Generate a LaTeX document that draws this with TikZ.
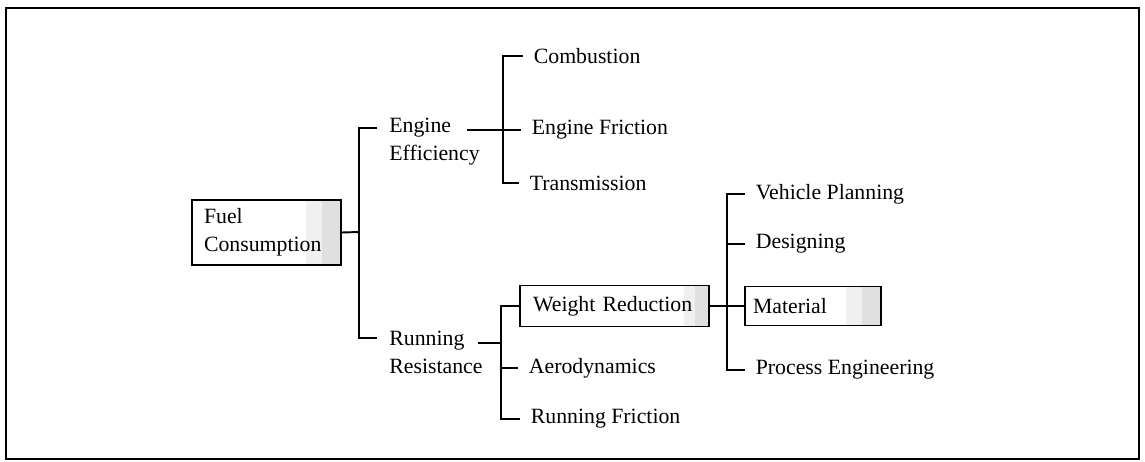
\documentclass[tikz,border=0pt]{standalone}
\usepackage{fontspec}
\setmainfont{Liberation Serif}
\begin{document}
\begin{tikzpicture}[x=0.02cm, y=-0.02cm,
  every node/.style={font=\fontsize{12.4}{15.9}\selectfont},
  lbl/.style={anchor=west, inner xsep=0.21cm, inner ysep=0pt},
  lbl2/.style={anchor=west, inner xsep=0.24cm, inner ysep=0pt, align=left},
  tintbox/.style={draw, line width=1.1pt, anchor=center, align=left,
    path picture={
      \fill[black!6] ([xshift=-#1]path picture bounding box.north east) rectangle
        (path picture bounding box.south east);
      \fill[black!12] ([xshift=-0.55*#1]path picture bounding box.north east) rectangle
        (path picture bounding box.south east);}},
  link/.style={line width=1.1pt}]
\useasboundingbox (0,0) rectangle (1145,462);

% outer frame
\draw[line width=1.6pt] (6,8) rectangle (1139,459);

% root and first level
\node[tintbox=0.7cm, minimum width=2.98cm, minimum height=1.3cm,
      text width=2.5cm] (fc) at (266.5,232.5) {Fuel\\Consumption};
\node[lbl2] (ee) at (377,141.5) {Engine\\Efficiency};
\node[lbl2] (rr) at (377,352) {Running\\Resistance};

% engine branch
\node[lbl] (cb) at (523,56) {Combustion};
\node[lbl] (ef) at (521,130) {Engine Friction};
\node[lbl] (tr) at (519,183) {Transmission};

% running resistance branch
\node[tintbox=0.5cm, minimum width=3.78cm, minimum height=0.82cm,
      text width=3.26cm] (wr) at (614.5,306) {Weight Reduction};
\node[lbl] (ae) at (518,368) {Aerodynamics};
\node[lbl] (rf) at (520,419) {Running Friction};

% weight reduction branch
\node[lbl] (vp) at (745,194) {Vehicle Planning};
\node[lbl] (dg) at (745,244) {Designing};
\node[tintbox=0.7cm, minimum width=2.72cm, minimum height=0.78cm,
      text width=2.4cm] (ma) at (813,306) {Material};
\node[lbl] (pe) at (745,370) {Process Engineering};

% junction points
\coordinate (j0) at (359,232);
\coordinate (eeOut) at (467,130);
\coordinate (j1) at (503,130);
\coordinate (rrOut) at (478,343);
\coordinate (j2) at (501,343);
\coordinate (j3) at (727,306);

% root to first level
\draw[link] (fc.east) -- (j0);
\draw[link] ([yshift=0.27cm]ee.west) -| (j0) |- ([yshift=0.28cm]rr.west);

% engine efficiency
\draw[link] (eeOut) -- (ef.west);
\draw[link] (cb.west) -| (j1) |- (tr.west);

% running resistance
\draw[link] (rrOut) -- (j2);
\draw[link] (wr.west) -| (j2) |- (rf.west);
\draw[link] (j2 |- ae.west) -- (ae.west);

% weight reduction
\draw[link] (wr.east) -- (ma.west);
\draw[link] (vp.west) -| (j3) |- (pe.west);
\draw[link] (j3 |- dg.west) -- (dg.west);
\end{tikzpicture}
\end{document}
